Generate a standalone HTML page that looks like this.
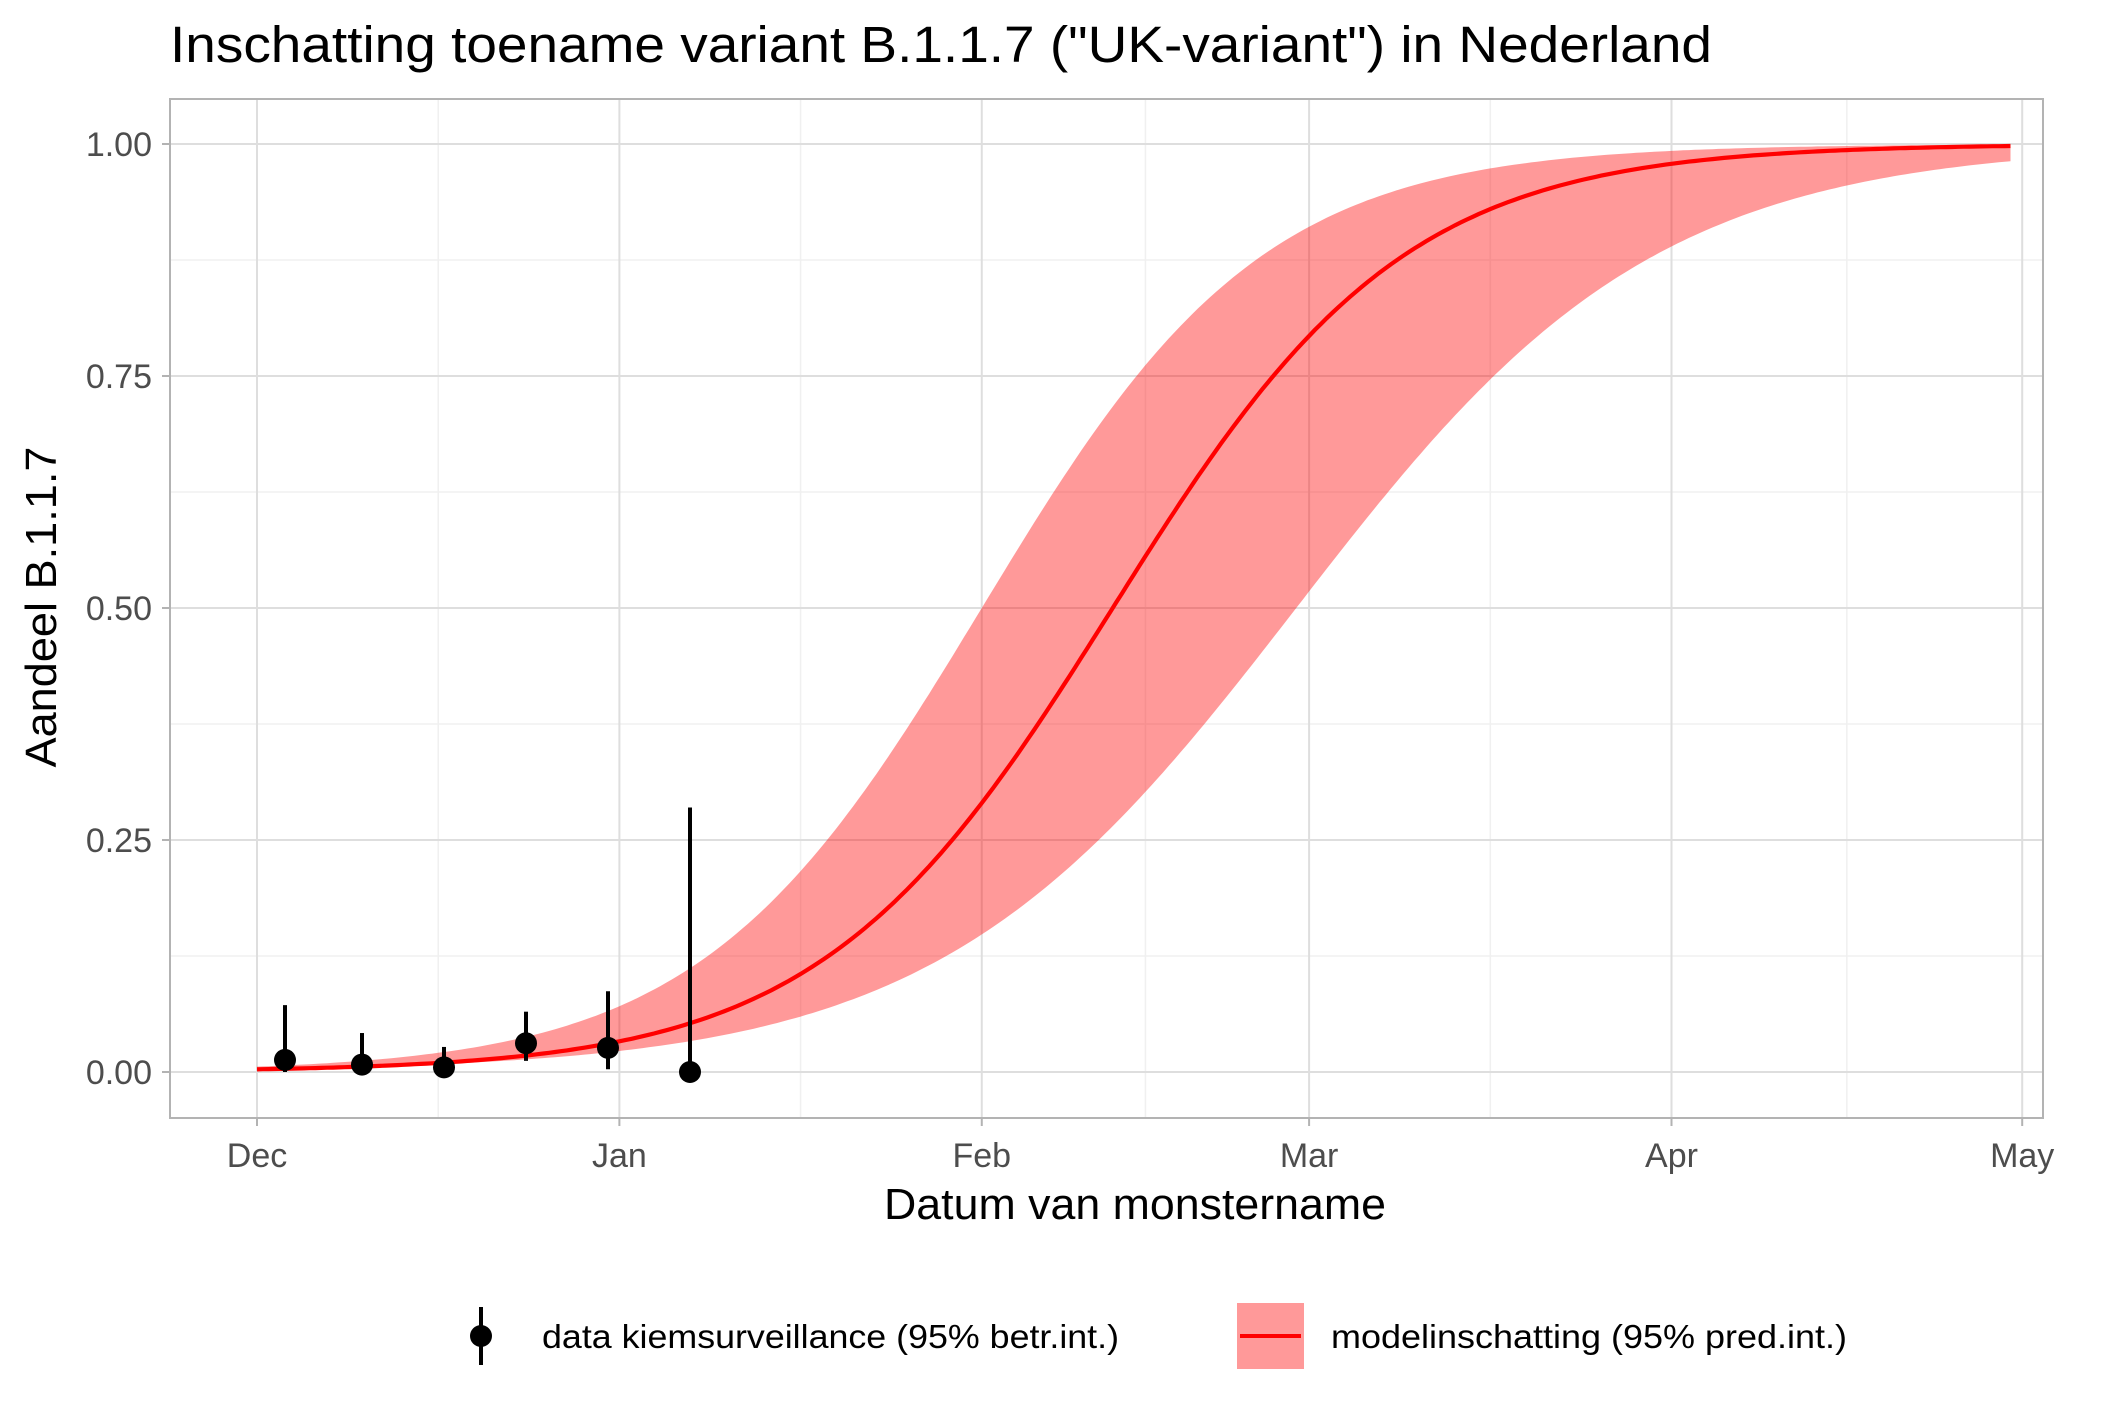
<!DOCTYPE html>
<html><head><meta charset="utf-8">
<style>html,body{margin:0;padding:0;background:#fff;}svg{display:block;}</style>
</head><body>
<svg id="s" width="2125" height="1417" xmlns="http://www.w3.org/2000/svg" font-family="Liberation Sans, sans-serif">
<rect width="2125" height="1417" fill="#fff"/>
<g id="grid"></g>
<path id="band" fill="#ff0000" fill-opacity="0.4" stroke="none"/>
<path id="line" fill="none" stroke="#ff0000" stroke-width="4.2"/>
<g id="pts"></g>
<rect x="170" y="99" width="1873" height="1019" fill="none" stroke="#b3b3b3" stroke-width="2"/>
<g id="ticks"></g>
<text x="170" y="62" font-size="51" fill="#000" textLength="1542" lengthAdjust="spacingAndGlyphs">Inschatting toename variant B.1.1.7 ("UK-variant") in Nederland</text>
<text x="1135" y="1219" font-size="44" text-anchor="middle" fill="#000" textLength="502" lengthAdjust="spacingAndGlyphs">Datum van monstername</text>
<text transform="translate(56,607) rotate(-90)" font-size="44" text-anchor="middle" fill="#000" textLength="321" lengthAdjust="spacingAndGlyphs">Aandeel B.1.1.7</text>
<line x1="481" y1="1307" x2="481" y2="1365" stroke="#000" stroke-width="4"/>
<circle cx="481" cy="1336" r="11" fill="#000"/>
<text x="542" y="1348" font-size="33" fill="#000" textLength="577" lengthAdjust="spacingAndGlyphs">data kiemsurveillance (95% betr.int.)</text>
<rect x="1237" y="1303" width="67" height="66" fill="#ff0000" fill-opacity="0.4"/>
<line x1="1240" y1="1336" x2="1301" y2="1336" stroke="#ff0000" stroke-width="4"/>
<text x="1331" y="1348" font-size="33" fill="#000" textLength="516" lengthAdjust="spacingAndGlyphs">modelinschatting (95% pred.int.)</text>
</svg>
<script>
var NS="http://www.w3.org/2000/svg";
function el(p,t,a,txt){var e=document.createElementNS(NS,t);for(var k in a)e.setAttribute(k,a[k]);if(txt)e.textContent=txt;p.appendChild(e);return e;}
var X0=257,DPX=11.69; function X(d){return X0+d*DPX;}
var Y0=1072,Y1=144; function Y(v){return Y0+(Y1-Y0)*v;}
var g=document.getElementById('grid'),tk=document.getElementById('ticks');
[0.125,0.375,0.625,0.875].forEach(function(v){el(g,'line',{x1:170,x2:2043,y1:Y(v),y2:Y(v),stroke:'#f0f0f0','stroke-width':1.5});});
var months=[[0,'Dec'],[31,'Jan'],[62,'Feb'],[90,'Mar'],[121,'Apr'],[151,'May']];
for(var i=0;i<months.length-1;i++){var m=(months[i][0]+months[i+1][0])/2;el(g,'line',{x1:X(m),x2:X(m),y1:99,y2:1118,stroke:'#f0f0f0','stroke-width':1.5});}
[0,0.25,0.5,0.75,1].forEach(function(v){el(g,'line',{x1:170,x2:2043,y1:Y(v),y2:Y(v),stroke:'#dedede','stroke-width':2});
 el(tk,'line',{x1:162,x2:170,y1:Y(v),y2:Y(v),stroke:'#b3b3b3','stroke-width':2});
 el(tk,'text',{x:152,y:Y(v)+12,'font-size':34,'text-anchor':'end',fill:'#4d4d4d'},v.toFixed(2));});
months.forEach(function(m){var x=X(m[0]);el(g,'line',{x1:x,x2:x,y1:99,y2:1118,stroke:'#dedede','stroke-width':2});
 el(tk,'line',{x1:x,x2:x,y1:1118,y2:1126,stroke:'#b3b3b3','stroke-width':2});
 el(tk,'text',{x:x,y:1167,'font-size':34,'text-anchor':'middle',fill:'#4d4d4d'},m[1]);});
function L(d,mid,r){return 1/(1+Math.exp(-r*(d-mid)));}
var up=[],lo=[],ln=[];
for(var d=0;d<=150;d+=0.5){
 var u=L(d,62,0.083), l=L(d,88.9,0.065), c=L(d,73.2,0.08);
 up.push(X(d).toFixed(1)+','+Y(u).toFixed(1));lo.unshift(X(d).toFixed(1)+','+Y(l).toFixed(1));ln.push(X(d).toFixed(1)+','+Y(c).toFixed(1));}
document.getElementById('band').setAttribute('d','M'+up.join('L')+'L'+lo.join('L')+'Z');
document.getElementById('line').setAttribute('d','M'+ln.join('L'));
var p=document.getElementById('pts');
[[285,0.013,0.0,0.072],[362,0.008,0.0,0.042],[444,0.005,0.0,0.027],[526,0.031,0.012,0.065],[608,0.026,0.003,0.087],[690,0.0,0.0,0.285]].forEach(function(a){
 el(p,'line',{x1:a[0],x2:a[0],y1:Y(a[2]),y2:Y(a[3]),stroke:'#000','stroke-width':4});
 el(p,'circle',{cx:a[0],cy:Y(a[1]),r:11,fill:'#000'});});
</script>
</body></html>
